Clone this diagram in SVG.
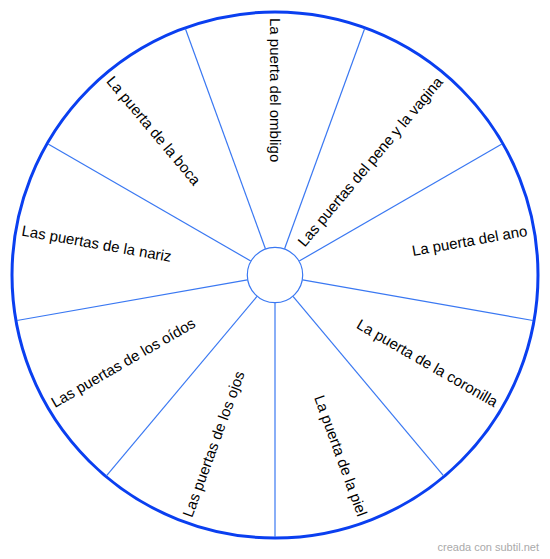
<svg xmlns="http://www.w3.org/2000/svg" width="550" height="559" viewBox="0 0 550 559">
<style>
.spoke{stroke:#3a78f2;stroke-width:1.2;fill:none}
.lbl{font-family:"Liberation Sans",Arial,sans-serif;font-size:15px;fill:#000}
.s{text-anchor:start}
.e{text-anchor:end}
</style>
<rect width="550" height="559" fill="#fff"/>
<g id="wheel">
<circle cx="275" cy="275" r="263" fill="#fff" stroke="#0a3ff0" stroke-width="3"/>
</g>
<g id="connectors">
<line class="spoke" x1="284.58" y1="248.69" x2="364.60" y2="28.80"/>
<line class="spoke" x1="299.25" y1="261" x2="501.89" y2="144"/>
<line class="spoke" x1="302.57" y1="279.86" x2="533.02" y2="320.48"/>
<line class="spoke" x1="293.00" y1="296.45" x2="443.41" y2="475.69"/>
<line class="spoke" x1="275" y1="303" x2="275" y2="537"/>
<line class="spoke" x1="257.00" y1="296.45" x2="106.59" y2="475.69"/>
<line class="spoke" x1="247.43" y1="279.86" x2="16.98" y2="320.48"/>
<line class="spoke" x1="250.75" y1="261" x2="48.11" y2="144"/>
<line class="spoke" x1="265.42" y1="248.69" x2="185.40" y2="28.80"/>
</g>
<g id="hub">
<circle cx="275" cy="275" r="27.7" fill="#fff" stroke="#3a78f2" stroke-width="1.2"/>
</g>
<g id="n-ombligo"><text class="lbl s" x="18" y="275" dy="0.35em" transform="rotate(90 275 275)">La puerta del ombligo</text></g>
<g id="n-pene"><text class="lbl e" x="531" y="275" dy="0.35em" transform="rotate(-50 275 275)">Las puertas del pene y la vagina</text></g>
<g id="n-ano"><text class="lbl e" x="531" y="275" dy="0.35em" transform="rotate(-10 275 275)">La puerta del ano</text></g>
<g id="n-coronilla"><text class="lbl e" x="531" y="275" dy="0.35em" transform="rotate(30 275 275)">La puerta de la coronilla</text></g>
<g id="n-piel"><text class="lbl e" x="531" y="275" dy="0.35em" transform="rotate(70 275 275)">La puerta de la piel</text></g>
<g id="n-ojos"><text class="lbl s" x="18" y="275" dy="0.35em" transform="rotate(290 275 275)">Las puertas de los ojos</text></g>
<g id="n-oidos"><text class="lbl s" x="18" y="275" dy="0.35em" transform="rotate(330 275 275)">Las puertas de los oídos</text></g>
<g id="n-nariz"><text class="lbl s" x="18" y="275" dy="0.35em" transform="rotate(10 275 275)">Las puertas de la nariz</text></g>
<g id="n-boca"><text class="lbl s" x="18" y="275" dy="0.35em" transform="rotate(50 275 275)">La puerta de la boca</text></g>
<text x="539" y="551" text-anchor="end" style="font-family:'Liberation Sans',Arial,sans-serif;font-size:11px;fill:#aaaaaa">creada con subtil.net</text>
</svg>
